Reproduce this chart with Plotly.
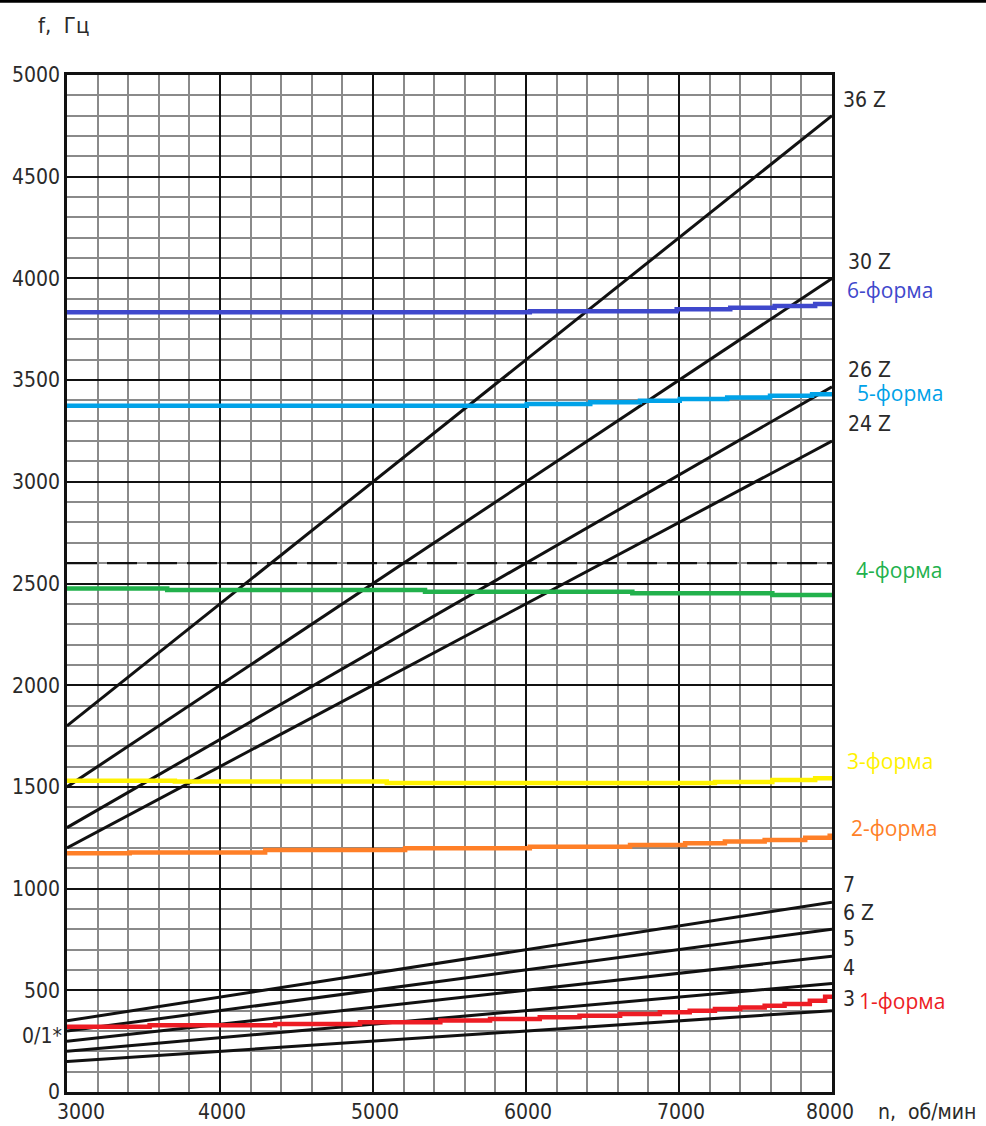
import plotly.graph_objects as go

# Rotor speed range, rpm
n_ends = [3000, 8000]

# Excitation lines (frequency at 3000 and 8000 rpm), Hz
z_lines = {
    "36 Z": [1800, 4800],
    "30 Z": [1500, 4000],
    "26 Z": [1300, 3467],
    "24 Z": [1200, 3200],
}
harm_lines = {
    "7": [350, 933],
    "6 Z": [300, 800],
    "5": [250, 667],
    "4": [200, 533],
    "3": [150, 400],
}

# Blade natural frequencies (stepped hand-traced curves)
form1_n = [3000, 3540, 4360, 4915, 5440, 5765, 6090, 6350, 6615, 6875, 7070, 7235, 7400, 7560, 7690, 7855, 7955, 8000]
form1_f = [321, 328, 334, 343, 351, 359, 367, 375, 383, 392, 400, 408, 416, 424, 433, 449, 468, 477]

form2_n = [3000, 3410, 4295, 5210, 6025, 6680, 7040, 7300, 7560, 7825, 7985, 8000]
form2_f = [1174, 1178, 1190, 1198, 1206, 1214, 1223, 1231, 1239, 1250, 1260, 1260]

form3_n = [3000, 3705, 5090, 7235, 7610, 7890, 8000]
form3_f = [1530, 1526, 1519, 1524, 1534, 1542, 1542]

form4_n = [3000, 3655, 5340, 6695, 7610, 8000]
form4_f = [2476, 2468, 2460, 2452, 2443, 2443]

form5_n = [3000, 6005, 6420, 6745, 7005, 7315, 7595, 7870, 8000]
form5_f = [3374, 3382, 3391, 3399, 3407, 3415, 3423, 3430, 3430]

form6_n = [3000, 6025, 6985, 7335, 7625, 7890, 8000]
form6_f = [3833, 3838, 3848, 3856, 3864, 3874, 3874]

dashed_level = 2600

x_ticks = [3000, 4000, 5000, 6000, 7000, 8000]
y_ticks = [0, 500, 1000, 1500, 2000, 2500, 3000, 3500, 4000, 4500, 5000]

TECH_FONT = "DejaVu Sans Condensed"
LABEL_FONT = "Open Sans"
INK = "#2a2a2a"

fig = go.Figure()

for name, f in z_lines.items():
    fig.add_trace(go.Scatter(x=n_ends, y=f, mode="lines", name=name,
                             line=dict(color="#111", width=3)))
for name, f in harm_lines.items():
    fig.add_trace(go.Scatter(x=n_ends, y=f, mode="lines", name=name,
                             line=dict(color="#111", width=3)))

fig.add_trace(go.Scatter(x=n_ends, y=[dashed_level, dashed_level], mode="lines",
                         line=dict(color="#111", width=2.2, dash="30px,10px")))

forms = [
    ("1-форма", form1_n, form1_f, "#ED1C24"),
    ("2-форма", form2_n, form2_f, "#FF7F27"),
    ("3-форма", form3_n, form3_f, "#FFF200"),
    ("4-форма", form4_n, form4_f, "#22B14C"),
    ("5-форма", form5_n, form5_f, "#00A2E8"),
    ("6-форма", form6_n, form6_f, "#3F48CC"),
]
for name, xs, ys, col in forms:
    fig.add_trace(go.Scatter(x=xs, y=ys, mode="lines", name=name, line_shape="hv",
                             line=dict(color=col, width=4.5)))

# Right-hand labels: (text, x offset px from right frame, y in Hz, colour, font)
right_labels = [
    ("36 Z", 9, 4877, INK, TECH_FONT),
    ("30 Z", 14, 4081, INK, TECH_FONT),
    ("6-форма", 13, 3943, "#3F48CC", LABEL_FONT),
    ("26 Z", 14, 3550, INK, TECH_FONT),
    ("5-форма", 23, 3437, "#00A2E8", LABEL_FONT),
    ("24 Z", 14, 3284, INK, TECH_FONT),
    ("4-форма", 22, 2566, "#22B14C", LABEL_FONT),
    ("3-форма", 13, 1627, "#FFF200", LABEL_FONT),
    ("2-форма", 17, 1298, "#FF7F27", LABEL_FONT),
    ("7", 9, 1018, INK, TECH_FONT),
    ("6 Z", 9, 880, INK, TECH_FONT),
    ("5", 9, 752, INK, TECH_FONT),
    ("4", 9, 610, INK, TECH_FONT),
    ("3", 9, 457, INK, TECH_FONT),
    ("1-форма", 25, 447, "#ED1C24", LABEL_FONT),
]
for text, dx, y, col, fnt in right_labels:
    size = 21 if fnt == TECH_FONT else 21
    fig.add_annotation(x=1, xref="paper", y=y, yref="y", text=text, showarrow=False,
                       xanchor="left", yanchor="middle", xshift=dx,
                       font=dict(family=fnt, size=size, color=col))

# X tick labels
for v in x_ticks:
    anchor = "left" if v == x_ticks[0] else "center"
    shift = -12 if v == x_ticks[0] else (-2 if v == x_ticks[-1] else 2)
    fig.add_annotation(x=v, xref="x", y=0, yref="paper", text=str(v), showarrow=False,
                       xanchor=anchor, yanchor="top", xshift=shift, yshift=-6,
                       font=dict(family=TECH_FONT, size=21, color=INK))

fig.add_annotation(x=1, xref="paper", y=0, yref="paper", text="n,  об/мин", showarrow=False,
                   xanchor="left", yanchor="top", xshift=44, yshift=-6,
                   font=dict(family=TECH_FONT, size=21, color=INK))
fig.add_annotation(x=0, xref="paper", y=1, yref="paper", text="f,  Гц", showarrow=False,
                   xanchor="left", yanchor="middle", xshift=-31, yshift=50,
                   font=dict(family=TECH_FONT, size=22, color=INK))
fig.add_annotation(x=0, xref="paper", y=300, yref="y", text="0/1*", showarrow=False,
                   xanchor="right", yanchor="middle", xshift=-3, yshift=-5,
                   font=dict(family=TECH_FONT, size=21, color=INK))

# Black band along the top edge of the sheet
fig.add_shape(type="rect", xref="paper", yref="paper", x0=-0.2, x1=1.3,
              y0=1.071, y1=1.08, fillcolor="#000", line=dict(width=0), layer="above")

fig.update_layout(
    width=986, height=1126,
    margin=dict(l=67, r=154, t=75, b=34),
    paper_bgcolor="white", plot_bgcolor="white",
    showlegend=False,
)
fig.update_xaxes(
    range=[3000, 8000], tickvals=x_ticks, showticklabels=False,
    showgrid=True, gridcolor="#111", gridwidth=2.2,
    minor=dict(dtick=200, tick0=3000, showgrid=True, gridcolor="#8a8a8a", gridwidth=1.7),
    showline=True, linecolor="#111", linewidth=2.5, mirror=True, zeroline=False, ticks="",
)
fig.update_yaxes(
    range=[0, 5000], tickvals=y_ticks, ticktext=[str(v) for v in y_ticks],
    tickfont=dict(family=TECH_FONT, size=21, color=INK),
    showgrid=True, gridcolor="#111", gridwidth=2.2,
    minor=dict(dtick=100, tick0=0, showgrid=True, gridcolor="#8a8a8a", gridwidth=1.7),
    showline=True, linecolor="#111", linewidth=2.5, mirror=True, zeroline=False, ticks="",
)

fig.write_html("out.html")
